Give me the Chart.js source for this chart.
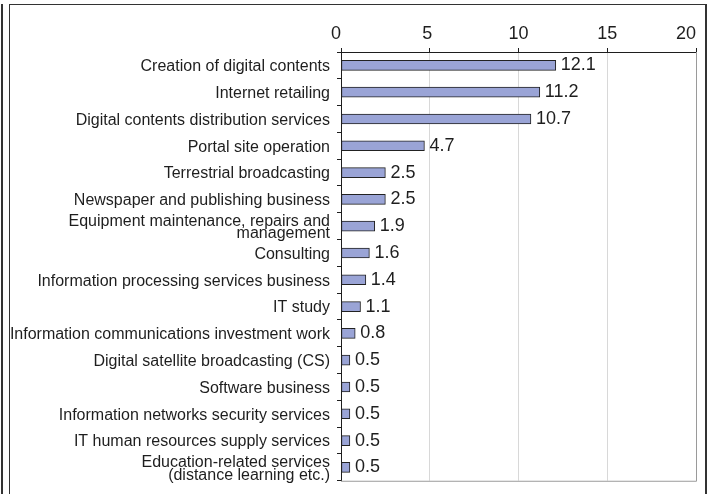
<!DOCTYPE html>
<html>
<head>
<meta charset="utf-8">
<script src="https://cdn.jsdelivr.net/npm/chart.js@4.4.1/dist/chart.umd.min.js"></script>
<style>
    html, body { margin: 0; padding: 0; background: #fff; }
    #wrap { position: relative; width: 711px; height: 494px; overflow: hidden; }
    #chart { position: absolute; left: 0; top: 0; }
    .rule { position: absolute; background: #333; }
</style>
</head>
<body>
<div id="wrap">
    <div class="rule" style="left:1px; top:4px; width:2px; height:490px;"></div>
    <div class="rule" style="left:9px; top:4px; width:1px; height:490px;"></div>
    <div class="rule" style="left:9px; top:4px; width:698px; height:1px;"></div>
    <div class="rule" style="left:705px; top:4px; width:2px; height:490px;"></div>
    <canvas id="chart" width="711" height="494"></canvas>
</div>
<script>
    // industries, largest first
    const categories = [
        'Creation of digital contents',
        'Internet retailing',
        'Digital contents distribution services',
        'Portal site operation',
        'Terrestrial broadcasting',
        'Newspaper and publishing business',
        ['Equipment maintenance, repairs and', 'management'],
        'Consulting',
        'Information processing services business',
        'IT study',
        'Information communications investment work',
        'Digital satellite broadcasting (CS)',
        'Software business',
        'Information networks security services',
        'IT human resources supply services',
        ['Education-related services', '(distance learning etc.)']
    ];
    const values = [12.1, 11.2, 10.7, 4.7, 2.5, 2.5, 1.9, 1.6, 1.4, 1.1, 0.8, 0.5, 0.5, 0.5, 0.5, 0.5];
    const axisTicks = [0, 5, 10, 15, 20];

    const FONT = 'Liberation Sans, Arial, Helvetica, sans-serif';
    const INK = '#1e1e1e';

    // trailing spaces nudge the end labels left so "20" stays inside the frame
    const tickPad = { 0: '  ', 5: ' ', 20: '    ' };

    // grey box round the plot, right and bottom edges
    const plotFrame = {
        id: 'plotFrame',
        afterDraw(chart) {
            const a = chart.chartArea;
            const c = chart.ctx;
            c.save();
            c.strokeStyle = '#9a9a9a';
            c.lineWidth = 1;
            c.beginPath();
            c.moveTo(a.right + 0.5, a.top);
            c.lineTo(a.right + 0.5, a.bottom + 0.5);
            c.lineTo(a.left, a.bottom + 0.5);
            c.stroke();
            c.restore();
        }
    };

    // value printed just past the end of each bar
    const valueLabels = {
        id: 'valueLabels',
        afterDatasetsDraw(chart) {
            const c = chart.ctx;
            const bars = chart.getDatasetMeta(0).data;
            c.save();
            c.font = '18px ' + FONT;
            c.fillStyle = INK;
            c.textAlign = 'left';
            c.textBaseline = 'middle';
            bars.forEach(function(bar, i) {
                c.fillText(values[i].toFixed(1), bar.x + 5, bar.y);
            });
            c.restore();
        }
    };

    new Chart(document.getElementById('chart'), {
        type: 'bar',
        data: {
            labels: categories,
            datasets: [{
                data: values,
                backgroundColor: '#9aa4d6',
                borderColor: '#222',
                borderWidth: 1,
                borderSkipped: false,
                barThickness: 10
            }]
        },
        options: {
            indexAxis: 'y',
            responsive: false,
            animation: false,
            layout: { padding: { left: 0, top: 0, right: 15, bottom: 11 } },
            plugins: {
                legend: { display: false },
                tooltip: { enabled: false }
            },
            scales: {
                x: {
                    position: 'top',
                    min: axisTicks[0],
                    max: axisTicks[axisTicks.length - 1],
                    afterBuildTicks: function(scale) {
                        scale.ticks = axisTicks.map(v => ({ value: v }));
                    },
                    afterFit: function(scale) {
                        scale.height = 52;
                        scale.paddingLeft = 0;
                        scale.paddingRight = 0;
                    },
                    ticks: {
                        font: { family: FONT, size: 18 },
                        color: INK,
                        padding: 3,
                        maxRotation: 0,
                        callback: v => String(v) + (tickPad[v] || '')
                    },
                    grid: {
                        color: ctx => ctx.tick && ctx.tick.value === 20 ? '#9a9a9a' : '#d8d8d8',
                        tickColor: INK,
                        tickLength: 4
                    },
                    border: { color: INK, width: 1 }
                },
                y: {
                    afterFit: function(scale) { scale.width = 341; },
                    ticks: {
                        font: { family: FONT, size: 16, lineHeight: 0.78 },
                        color: INK,
                        padding: 7,
                        labelOffset: 1.5,
                        autoSkip: false
                    },
                    grid: {
                        drawOnChartArea: false,
                        tickColor: INK,
                        tickLength: 4
                    },
                    border: { color: INK, width: 1 }
                }
            }
        },
        plugins: [plotFrame, valueLabels]
    });
</script>
</body>
</html>
